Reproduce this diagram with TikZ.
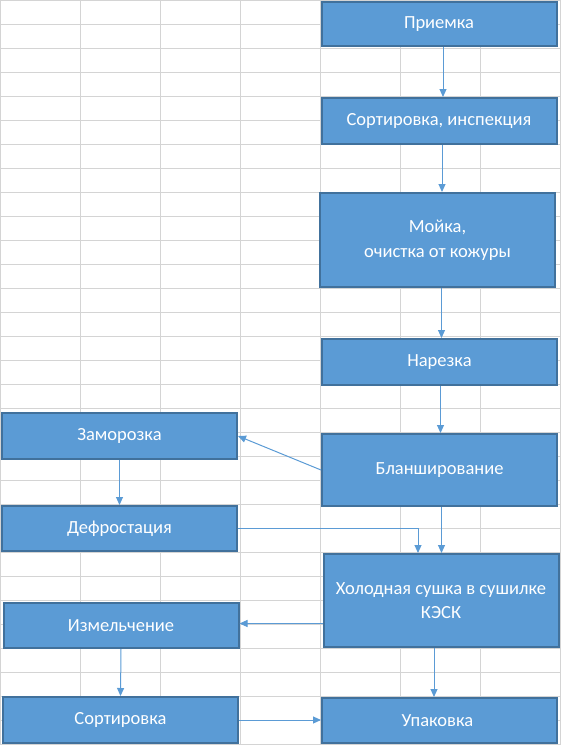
\documentclass[tikz,border=0pt]{standalone}
\usepackage{fontspec}
\setmainfont{Carlito}
\usetikzlibrary{arrows.meta}
\definecolor{boxfill}{HTML}{5B9BD5}
\definecolor{boxline}{HTML}{41719C}
\definecolor{gridgray}{HTML}{D4D4D4}
\tikzset{
  stage/.style={draw=boxline, line width=2pt, fill=boxfill, text=white,
    minimum width=235pt, align=center, inner sep=2pt,
    font=\fontsize{18.5}{24.5}\selectfont},
  flow/.style={draw=boxfill, line width=1pt,
    -{Triangle[length=8pt,width=7pt]}},
  cell/.style={draw=gridgray, line width=1pt}
}
\begin{document}
\begin{tikzpicture}[x=1pt, y=-1pt]
   \useasboundingbox (0,0) rectangle (561,745);
   % sheet grid
   \foreach \x in {0,80,...,560} \draw[cell] (\x,0) -- (\x,745);
   \foreach \y in {0,24,...,744} \draw[cell] (0,\y) -- (561,\y);
   % stages
   \foreach \n/\x/\y/\h/\t in
     { priem/439/24/44/{Приемка},
       sortin/439/121/46/{Сортировка, инспекция},
       moika/437.5/240/94/{Мойка,\\очистка от кожуры},
       narez/439.5/362/46/{Нарезка},
       blansh/439.5/470/72/{Бланширование},
       zamor/119.5/436/46/{Заморозка},
       defrost/119.5/528.5/45/{Дефростация},
       holod/441/600.5/93/{Холодная сушка в сушилке\\КЭСК},
       izmel/121/625.5/45/{Измельчение},
       sortout/120.5/720/46/{Сортировка},
       upak/439.5/720.5/45/{Упаковка}
     }
     \node[stage, minimum height=\h pt] (\n) at (\x,\y) {\t};
   % connectors
   \draw[flow] ([xshift=4pt]priem.south) -- ([xshift=4pt]priem.south |- sortin.north);
   \draw[flow] ([xshift=3pt]sortin.south) -- ([xshift=3pt]sortin.south |- moika.north);
   \draw[flow] ([xshift=4pt]moika.south) -- ([xshift=4pt]moika.south |- narez.north);
   \draw[flow] ([xshift=1pt]narez.south) -- ([xshift=1pt]narez.south |- blansh.north);
   \draw[flow] (blansh.west) -- (zamor.east);
   \draw[flow] (zamor.south) -- (defrost.north);
   \draw[flow] ([xshift=2pt]blansh.south) -- ([xshift=2pt]blansh.south |- holod.north);
   \draw[flow] (defrost.east) -| ([xshift=-23pt]holod.north);
   \draw[flow] ([yshift=2pt]izmel.east -| holod.west) -- ([yshift=2pt]izmel.east);
   \draw[flow] ([xshift=-7pt]holod.south) -- ([xshift=-7pt]holod.south |- upak.north);
   \draw[flow] (izmel.south) -- (sortout.north);
   \draw[flow] (sortout.east) -- (sortout.east -| upak.west);
\end{tikzpicture}
\end{document}
